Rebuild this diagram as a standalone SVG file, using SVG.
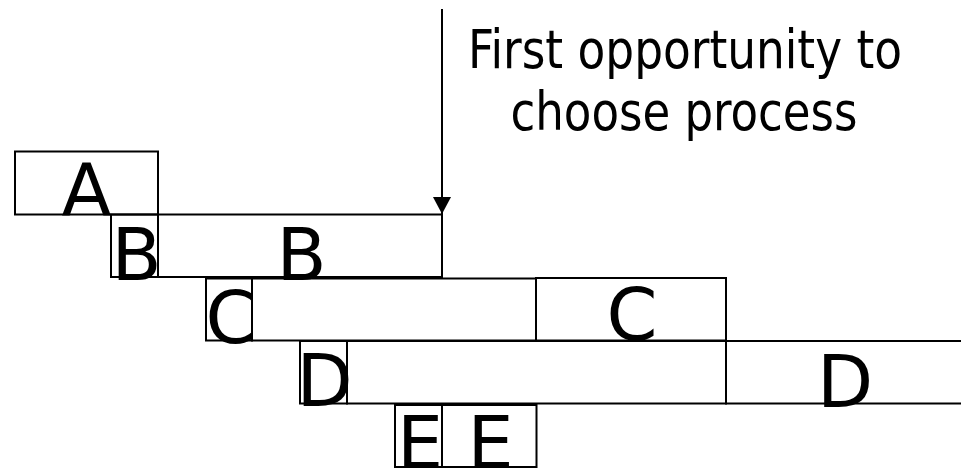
<svg xmlns="http://www.w3.org/2000/svg" width="961" height="469" viewBox="0 0 961 469">
  <style>
    .box { fill: none; stroke: #000; stroke-width: 2; }
    .lbl { font-family: "DejaVu Sans", "Liberation Sans", sans-serif; font-size: 73px; fill: #000; text-anchor: middle; }
    .cap { font-family: "DejaVu Sans Condensed", "DejaVu Sans", sans-serif; font-stretch: condensed; font-size: 53px; fill: #000; text-anchor: middle; }
  </style>
  <defs>
    <marker id="ah" markerWidth="17" markerHeight="18" refX="17" refY="9" orient="auto" markerUnits="userSpaceOnUse" viewBox="0 0 17 18">
      <path d="M0,0 L17,9 L0,18 Z" fill="#000"/>
    </marker>
  </defs>
  <rect width="961" height="469" fill="#fff"/>

  <g id="connectors">
    <line x1="442" y1="9" x2="442" y2="214" stroke="#000" stroke-width="2" marker-end="url(#ah)"/>
  </g>

  <g id="caption">
    <text class="cap" x="685" y="68" textLength="434" lengthAdjust="spacingAndGlyphs">First opportunity to</text>
    <text class="cap" x="684" y="130" textLength="347" lengthAdjust="spacingAndGlyphs">choose process</text>
  </g>

  <g id="A">
    <rect class="box" x="15" y="151.5" width="143" height="63"/>
    <text class="lbl" x="86.5" y="216">A</text>
  </g>
  <g id="B1">
    <rect class="box" x="111" y="214.5" width="47" height="62.5"/>
    <text class="lbl" x="136.5" y="280">B</text>
  </g>
  <g id="B2">
    <rect class="box" x="158" y="214.5" width="284" height="62.5"/>
    <text class="lbl" x="301.5" y="280">B</text>
  </g>
  <g id="C1">
    <rect class="box" x="206" y="278.5" width="46" height="62"/>
    <text class="lbl" x="231" y="343">C</text>
  </g>
  <g id="Cwait">
    <rect class="box" x="252" y="278.5" width="284" height="62"/>
  </g>
  <g id="C2">
    <rect class="box" x="536" y="278" width="190" height="62.5"/>
    <text class="lbl" x="632" y="340">C</text>
  </g>
  <g id="D1">
    <rect class="box" x="300" y="341" width="47" height="62.5"/>
    <text class="lbl" x="324.5" y="406">D</text>
  </g>
  <g id="Dwait">
    <rect class="box" x="347" y="341" width="379" height="62.5"/>
  </g>
  <g id="D2">
    <path class="box" d="M966,341 H726 V403.5 H966"/>
    <text class="lbl" x="845" y="407">D</text>
  </g>
  <g id="E1">
    <rect class="box" x="395" y="405" width="47" height="62"/>
    <text class="lbl" x="420" y="468">E</text>
  </g>
  <g id="E2">
    <rect class="box" x="442" y="405" width="94.5" height="62"/>
    <text class="lbl" x="490.5" y="468">E</text>
  </g>
</svg>
